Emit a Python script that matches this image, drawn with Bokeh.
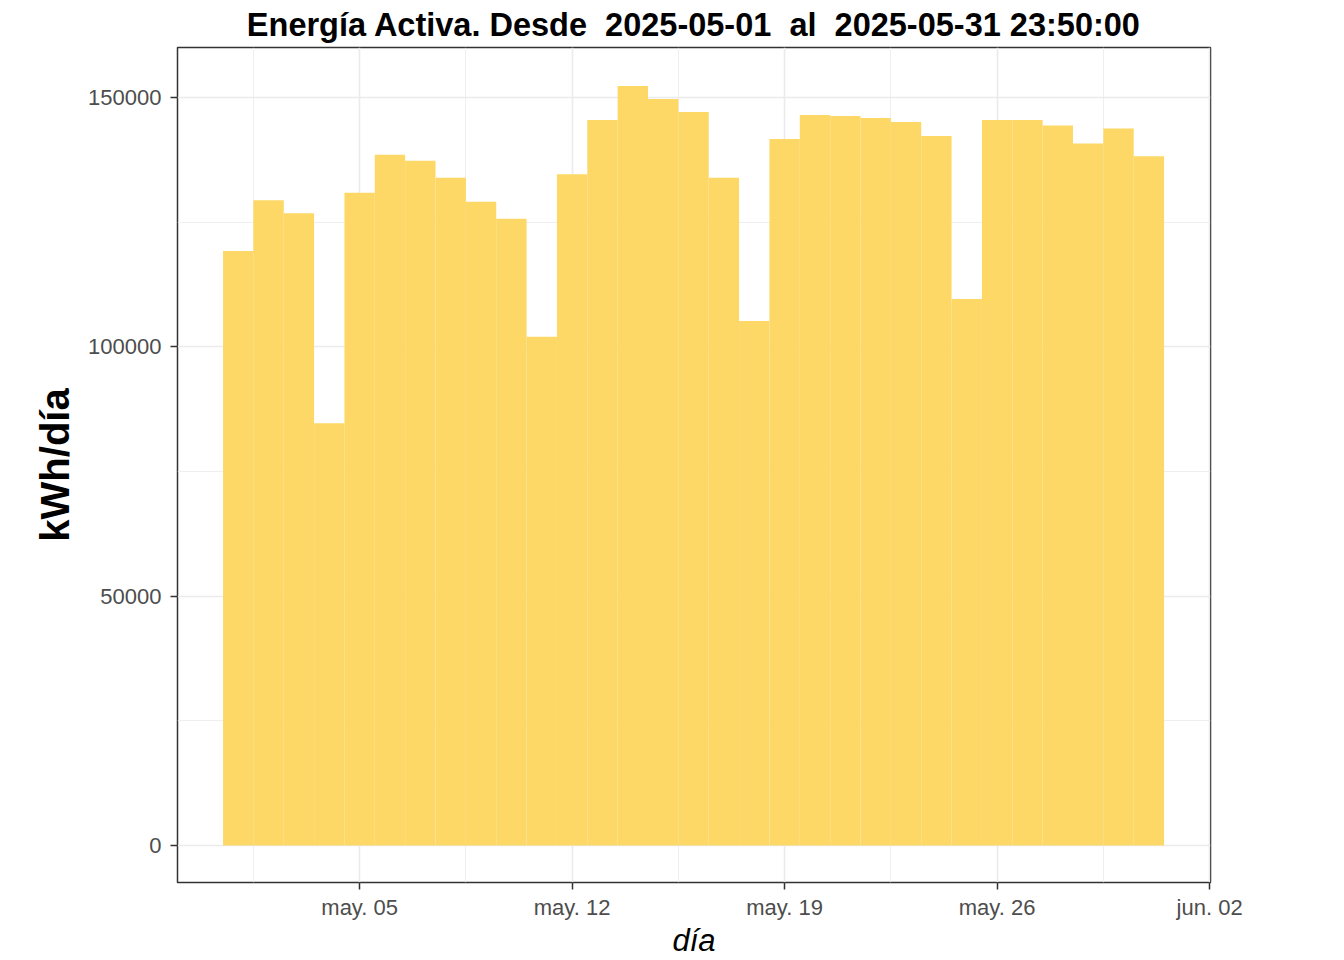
from bokeh.plotting import figure
from bokeh.models import Range1d, FixedTicker, BasicTickFormatter
from bokeh.embed import file_html
from bokeh.resources import INLINE

# ---- data ----
days = list(range(1, 32))  # day of May 2025
kwh = [119200, 129400, 126800, 84700, 130900, 138500, 137300, 133900, 129100,
       125700, 102000, 134600, 145500, 152300, 149700, 147100, 133900, 105200,
       141700, 146500, 146300, 145900, 145100, 142300, 109600, 145500, 145500,
       144400, 140800, 143800, 138200]
x_tick_days = [5, 12, 19, 26, 33]
x_tick_labels = ["may. 05", "may. 12", "may. 19", "may. 26", "jun. 02"]
x_minor_days = [1.5, 8.5, 15.5, 22.5, 29.5]
y_ticks = [0, 50000, 100000, 150000]
y_minor = [25000, 75000, 125000]
# double spaces kept visible with a no-break space
title_text = "Energía Activa. Desde \u00a02025-05-01 \u00a0al \u00a02025-05-31 23:50:00"
y_label = "kWh/día"
x_label = "día"

FONT = "Liberation Sans"

p = figure(
    frame_width=1033, frame_height=835,
    min_border_left=177, min_border_right=126, min_border_top=47, min_border_bottom=70,
    x_range=Range1d(-1.0, 33.03), y_range=Range1d(-7420, 160030),
    output_backend="svg", toolbar_location=None,
    background_fill_color="white", border_fill_color="white",
)

p.vbar(x=days, top=kwh, bottom=0, width=1.0, fill_color="#FDD866", line_color=None)

# title
p.title.text = title_text
p.title.text_font = FONT
p.title.text_font_style = "bold"
p.title.text_font_size = "32.5px"
p.title.text_color = "black"
p.title.align = "center"
p.title.standoff = 9

# frame
p.outline_line_color = "#333333"
p.outline_line_width = 1.5

# grids
p.xgrid.ticker = FixedTicker(ticks=x_tick_days, minor_ticks=x_minor_days)
p.ygrid.ticker = FixedTicker(ticks=y_ticks, minor_ticks=y_minor)
for g in (p.xgrid[0], p.ygrid[0]):
    g.grid_line_color = "#EBEBEB"
    g.grid_line_width = 1.6
    g.minor_grid_line_color = "#EBEBEB"
    g.minor_grid_line_width = 0.8

# axes
xa = p.xaxis[0]
xa.ticker = FixedTicker(ticks=x_tick_days, minor_ticks=x_minor_days)
xa.major_label_overrides = {d: lab for d, lab in zip(x_tick_days, x_tick_labels)}
xa.axis_label = x_label
xa.axis_label_text_font_style = "italic"
xa.axis_label_text_font_size = "31px"
xa.axis_label_standoff = 0
xa.major_label_standoff = 5

ya = p.yaxis[0]
ya.ticker = FixedTicker(ticks=y_ticks, minor_ticks=y_minor)
ya.formatter = BasicTickFormatter(use_scientific=False)
ya.axis_label = y_label
ya.axis_label_text_font_style = "bold"
ya.axis_label_text_font_size = "40px"
ya.axis_label_standoff = 8
ya.major_label_standoff = 9

for a in (xa, ya):
    a.axis_line_color = None
    a.major_tick_line_color = "#333333"
    a.major_tick_line_width = 1.5
    a.major_tick_out = 7
    a.major_tick_in = 0
    a.minor_tick_line_color = None
    a.major_label_text_font = FONT
    a.major_label_text_font_size = "22px"
    a.major_label_text_color = "#4D4D4D"
    a.axis_label_text_font = FONT
    a.axis_label_text_color = "black"

open("out.html", "w").write(file_html(p, INLINE))
